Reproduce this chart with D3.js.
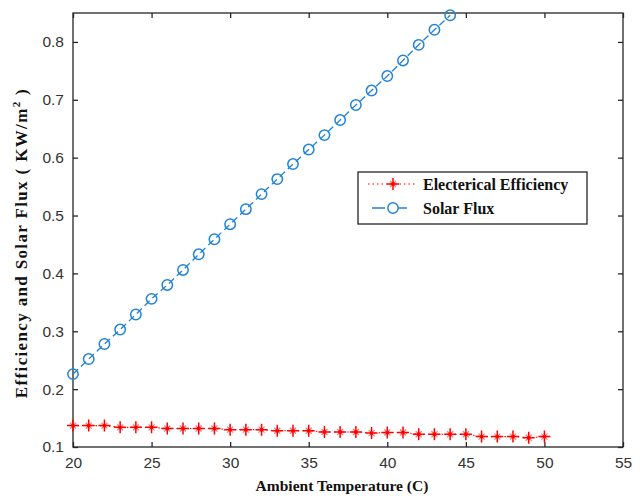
<!DOCTYPE html>
<html>
<head>
<meta charset="utf-8">
<script src="https://cdn.jsdelivr.net/npm/d3@7"></script>
<style>
  html, body { margin: 0; padding: 0; background: #fff; }
  svg { display: block; }
</style>
</head>
<body>
<svg id="chart" width="644" height="498"></svg>
<script>
// Ambient temperature (°C) for each series
const tempEff = d3.range(20, 51);   // 20 … 50
const tempFlux = d3.range(20, 45);  // 20 … 44

// Electrical efficiency
const efficiency = [
  0.137, 0.137, 0.137, 0.134, 0.134, 0.134, 0.132, 0.132, 0.132, 0.132,
  0.130, 0.130, 0.130, 0.128, 0.128, 0.128, 0.126, 0.126, 0.126, 0.124,
  0.125, 0.125, 0.122, 0.122, 0.122, 0.122, 0.118, 0.118, 0.118, 0.116,
  0.118
];

// Solar flux (kW/m²)
const solarFlux = [
  0.226, 0.252, 0.278, 0.303, 0.329, 0.356, 0.380, 0.406, 0.433, 0.459,
  0.485, 0.511, 0.537, 0.563, 0.589, 0.614, 0.639, 0.665, 0.691, 0.716,
  0.741, 0.768, 0.795, 0.821, 0.846
];

const xTicks = [20, 25, 30, 35, 40, 45, 50, 55];
const yTicks = [0.1, 0.2, 0.3, 0.4, 0.5, 0.6, 0.7, 0.8];

const seriesNames = ["Electerical Efficiency", "Solar Flux"];
const xTitle = "Ambient Temperature (C)";

const W = 644, H = 498;
const margin = { left: 73, right: 21, top: 13, bottom: 51 };
const svg = d3.select("#chart");

const x = d3.scaleLinear().domain([20, 55]).range([margin.left, W - margin.right]);
const y = d3.scaleLinear().domain([0.1, 0.85]).range([H - margin.bottom, margin.top]);

const axisColor = "#262626";
const redC = "#ff0000";
const blueC = "#2383d3";
const tickLen = 5;

// Box
svg.append("rect")
  .attr("x", x(20)).attr("y", y(0.85))
  .attr("width", x(55) - x(20)).attr("height", y(0.1) - y(0.85))
  .attr("fill", "none").attr("stroke", axisColor).attr("stroke-width", 1.3);

function styleAxis(g) {
  g.select(".domain").remove();
  g.selectAll(".tick line").attr("stroke", axisColor).attr("stroke-width", 1.3);
  g.selectAll(".tick text")
    .attr("fill", "#333")
    .style("font-family", "'Liberation Sans', Arial, sans-serif")
    .style("font-size", "15.5px");
}

// Bottom axis (ticks pointing inward)
svg.append("g")
  .attr("transform", `translate(0,${y(0.1)})`)
  .call(d3.axisBottom(x).tickValues(xTicks).tickFormat(d3.format("d"))
    .tickSizeInner(-tickLen).tickSizeOuter(0).tickPadding(10))
  .call(styleAxis);

// Top axis ticks
svg.append("g")
  .attr("transform", `translate(0,${y(0.85)})`)
  .call(d3.axisTop(x).tickValues(xTicks).tickFormat("")
    .tickSizeInner(-tickLen).tickSizeOuter(0))
  .call(styleAxis);

// Left axis
svg.append("g")
  .attr("transform", `translate(${x(20)},0)`)
  .call(d3.axisLeft(y).tickValues(yTicks).tickFormat(d3.format(".1f"))
    .tickSizeInner(-tickLen).tickSizeOuter(0).tickPadding(9))
  .call(styleAxis);

// Right axis ticks
svg.append("g")
  .attr("transform", `translate(${x(55)},0)`)
  .call(d3.axisRight(y).tickValues(yTicks).tickFormat("")
    .tickSizeInner(-tickLen).tickSizeOuter(0))
  .call(styleAxis);

const serif = "'Liberation Serif', 'Times New Roman', serif";

// Axis titles
svg.append("text")
  .attr("x", (x(20) + x(55)) / 2 - 6).attr("y", 491)
  .attr("text-anchor", "middle")
  .style("font-family", serif).style("font-weight", "bold").style("font-size", "15.5px")
  .attr("fill", "#111")
  .text(xTitle);

const yt = svg.append("text")
  .attr("transform", `translate(27,${(y(0.1) + y(0.85)) / 2 + 13}) rotate(-90)`)
  .attr("text-anchor", "middle")
  .style("font-family", serif).style("font-weight", "bold").style("font-size", "17px")
  .style("letter-spacing", "1.35px")
  .attr("fill", "#111");
yt.append("tspan").text("Efficiency and Solar Flux ( KW/m");
yt.append("tspan").attr("dy", -7).style("font-size", "11px").text("2");
yt.append("tspan").attr("dy", 7).text(" )");

// Lines
const effData = tempEff.map((t, i) => [t, efficiency[i]]);
const fluxData = tempFlux.map((t, i) => [t, solarFlux[i]]);
const line = d3.line().x(d => x(d[0])).y(d => y(d[1]));

svg.append("path").datum(effData)
  .attr("d", line).attr("fill", "none")
  .attr("stroke", redC).attr("stroke-width", 1.1).attr("stroke-dasharray", "1.5,3");

svg.append("path").datum(fluxData)
  .attr("d", line).attr("fill", "none")
  .attr("stroke", blueC).attr("stroke-width", 1.3).attr("stroke-dasharray", "7,4");

// Star marker: plus with short faint diagonals
function star(g, cx, cy, s) {
  const k = s * 0.5;
  g.append("path")
    .attr("d", `M${cx - k},${cy - k}L${cx + k},${cy + k}M${cx - k},${cy + k}L${cx + k},${cy - k}`)
    .attr("stroke", redC).attr("stroke-opacity", 0.55).attr("stroke-width", 1.2).attr("fill", "none");
  g.append("path")
    .attr("d", `M${cx - s},${cy}L${cx + s},${cy}M${cx},${cy - s}L${cx},${cy + s}`)
    .attr("stroke", redC).attr("stroke-width", 1.5).attr("fill", "none");
  g.append("circle").attr("cx", cx).attr("cy", cy).attr("r", 1.9).attr("fill", redC);
}

const effG = svg.append("g");
effData.forEach(d => star(effG, x(d[0]), y(d[1]), 6));

svg.append("g").selectAll("circle").data(fluxData).join("circle")
  .attr("cx", d => x(d[0])).attr("cy", d => y(d[1])).attr("r", 5.2)
  .attr("fill", "none").attr("stroke", blueC).attr("stroke-width", 1.5);

// Legend
const lg = svg.append("g");
lg.append("rect").attr("x", 358).attr("y", 172).attr("width", 229).attr("height", 52)
  .attr("fill", "#fff").attr("stroke", axisColor).attr("stroke-width", 1.3);

lg.append("line").attr("x1", 368).attr("x2", 416).attr("y1", 184).attr("y2", 184)
  .attr("stroke", redC).attr("stroke-width", 1.1).attr("stroke-dasharray", "1.5,3");
star(lg, 393, 184, 6);

lg.append("line").attr("x1", 372).attr("x2", 416).attr("y1", 208).attr("y2", 208)
  .attr("stroke", blueC).attr("stroke-width", 1.3).attr("stroke-dasharray", "13,9");
lg.append("circle").attr("cx", 393).attr("cy", 208).attr("r", 5.2)
  .attr("fill", "#fff").attr("stroke", blueC).attr("stroke-width", 1.5);

seriesNames.forEach((name, i) => {
  lg.append("text").attr("x", 423).attr("y", 189.5 + i * 24)
    .style("font-family", serif).style("font-weight", "bold").style("font-size", "16px")
    .attr("fill", "#111").text(name);
});
</script>
</body>
</html>
